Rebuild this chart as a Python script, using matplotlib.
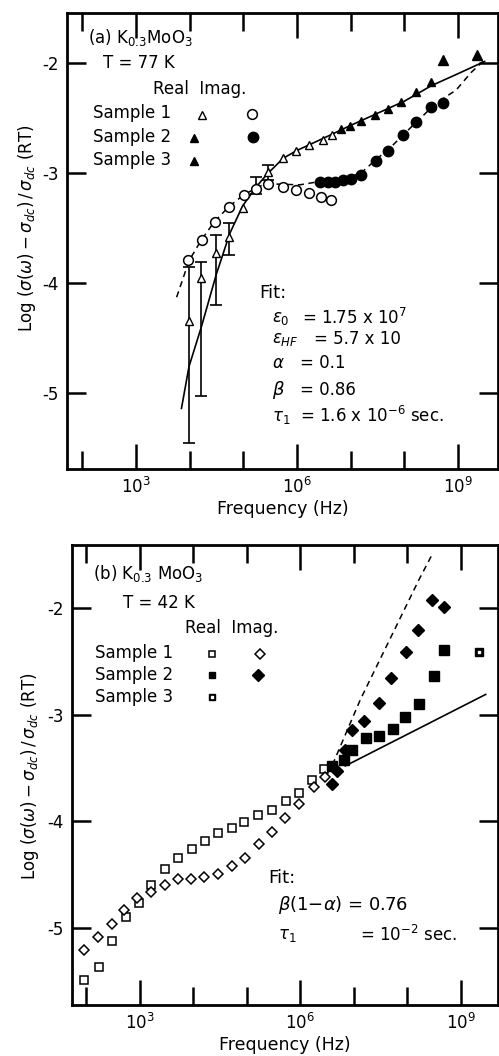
import matplotlib.pyplot as plt
import numpy as np
from matplotlib.ticker import FixedLocator, NullFormatter

W, H = 499, 1056

# ---- panel (a), T = 77 K  (x values are log10 of frequency in Hz)
a_s1_real_logf = [3.99, 4.22, 4.50, 4.73, 4.99, 5.23, 5.46, 5.74, 5.99, 6.23, 6.48, 6.65]
a_s1_real = [-4.35, -3.96, -3.73, -3.58, -3.32, -3.13, -2.99, -2.87, -2.80, -2.75, -2.70, -2.66]
a_err_logf = [3.99, 4.22, 4.50, 4.73, 5.23, 5.46]
a_err_val = [-4.35, -3.96, -3.73, -3.58, -3.13, -2.99]
a_err_lo = [-5.45, -5.03, -4.20, -3.75, -3.19, -3.07]
a_err_hi = [-3.86, -3.81, -3.57, -3.46, -3.04, -2.93]
a_s2_real_logf = [6.82, 6.98, 7.20, 7.46, 7.69, 7.94, 8.22, 8.50]
a_s2_real = [-2.60, -2.58, -2.53, -2.48, -2.42, -2.36, -2.27, -2.18]
a_s3_real_logf = [8.72, 9.34]
a_s3_real = [-1.98, -1.93]
a_s1_imag_logf = [3.97, 4.23, 4.47, 4.73, 5.02, 5.24, 5.46, 5.74, 5.99, 6.22, 6.45, 6.64]
a_s1_imag = [-3.79, -3.61, -3.45, -3.31, -3.20, -3.15, -3.10, -3.13, -3.16, -3.18, -3.22, -3.25]
a_s2_imag_logf = [6.42, 6.57, 6.70, 6.85, 7.01, 7.20, 7.47, 7.69, 7.97, 8.22, 8.50, 8.71]
a_s2_imag = [-3.08, -3.08, -3.08, -3.07, -3.06, -3.02, -2.89, -2.80, -2.66, -2.54, -2.40, -2.37]
a_fit_real_logf = [3.85, 3.99, 4.22, 4.50, 4.75, 4.99, 5.24, 5.43, 5.74, 5.99, 6.48, 7.0, 7.5, 8.0, 8.5, 9.0, 9.49]
a_fit_real = [-5.14, -4.76, -4.40, -3.92, -3.55, -3.30, -3.13, -3.02, -2.87, -2.80, -2.69, -2.57, -2.46, -2.35, -2.21, -2.10, -1.99]
a_fit_imag_logf = [3.76, 3.99, 4.22, 4.47, 4.73, 5.01, 5.40, 6.05, 6.42, 6.85, 7.20, 7.47, 7.72, 7.97, 8.22, 8.50, 8.71, 8.96, 9.24, 9.46]
a_fit_imag = [-4.13, -3.80, -3.61, -3.44, -3.31, -3.20, -3.10, -3.11, -3.08, -3.06, -3.00, -2.88, -2.78, -2.66, -2.54, -2.41, -2.33, -2.25, -2.09, -1.99]

# ---- panel (b), T = 42 K
b_s1_real_logf = [1.96, 2.24, 2.49, 2.74, 2.99, 3.22, 3.47, 3.72, 3.98, 4.23, 4.47, 4.73, 4.95, 5.22, 5.47, 5.73, 5.98, 6.22, 6.44]
b_s1_real = [-5.49, -5.36, -5.12, -4.90, -4.76, -4.60, -4.45, -4.34, -4.26, -4.18, -4.11, -4.06, -4.01, -3.94, -3.89, -3.81, -3.73, -3.61, -3.51]
b_s1_imag_logf = [1.96, 2.23, 2.48, 2.71, 2.96, 3.21, 3.47, 3.72, 3.97, 4.21, 4.46, 4.73, 4.96, 5.23, 5.47, 5.72, 5.98, 6.25, 6.47]
b_s1_imag = [-5.20, -5.08, -4.96, -4.83, -4.72, -4.66, -4.60, -4.54, -4.54, -4.52, -4.49, -4.42, -4.34, -4.21, -4.10, -3.97, -3.84, -3.68, -3.58]
b_s2_real_logf = [6.59, 6.81, 6.97, 7.22, 7.47, 7.73, 7.96, 8.21, 8.50, 8.69]
b_s2_real = [-3.48, -3.42, -3.33, -3.22, -3.20, -3.13, -3.02, -2.90, -2.64, -2.39]
b_s3_real_logf = [9.34]
b_s3_real = [-2.41]
b_s2_imag_logf = [6.59, 6.69, 6.84, 6.97, 7.19, 7.47, 7.70, 7.97, 8.20, 8.46, 8.69]
b_s2_imag = [-3.65, -3.53, -3.33, -3.14, -3.06, -2.89, -2.66, -2.41, -2.21, -1.93, -1.99]
b_fit_dash_logf = [6.60, 7.12, 8.21, 8.47]
b_fit_dash = [-3.47, -2.86, -1.74, -1.49]
b_fit_solid_logf = [6.84, 9.46]
b_fit_solid = [-3.48, -2.81]

major_dec = [3, 6, 9]
minor_dec = [2, 4, 5, 7, 8]


def f(logf):
    return 10.0 ** np.asarray(logf)


def fx(x):
    return x / W


def fy(y):
    return 1 - y / H


def style_axes(ax, xlim, ylim):
    ax.set_xscale('log')
    ax.set_xlim(10 ** xlim[0], 10 ** xlim[1])
    ax.set_ylim(*ylim)
    ax.xaxis.set_major_locator(FixedLocator([10.0 ** d for d in major_dec]))
    ax.xaxis.set_minor_locator(FixedLocator([10.0 ** d for d in minor_dec]))
    ax.xaxis.set_minor_formatter(NullFormatter())
    ax.set_xticklabels(['$10^{%d}$' % d for d in major_dec])
    ax.set_yticks([-2, -3, -4, -5])
    ax.set_yticklabels(['-2', '-3', '-4', '-5'])
    ax.tick_params(which='major', direction='in', length=18, width=1.8,
                   top=True, right=True, labelsize=12, pad=6)
    ax.tick_params(axis='y', which='major', length=14)
    ax.tick_params(which='minor', direction='in', length=13, width=1.8,
                   top=True, right=True)
    for s in ax.spines.values():
        s.set_linewidth(2)
    ax.set_xlabel('Frequency (Hz)', fontsize=12.5, labelpad=2)


def legend_mark(x, y, **kw):
    fig.lines.append(plt.Line2D([fx(x)], [fy(y)], transform=fig.transFigure, **kw))


fig = plt.figure(figsize=(W / 100, H / 100), dpi=100)
ylab = r'Log $(\sigma(\omega)-\sigma_{dc})\,/\,\sigma_{dc}$ (RT)'

# ================= panel (a)
axa = fig.add_axes([67 / W, 1 - 469 / H, 431 / W, 456 / H])
style_axes(axa, (1.72, 9.74), (-5.69, -1.55))

axa.plot(f(a_fit_real_logf), a_fit_real, color='k', lw=1.2)
axa.plot(f(a_fit_imag_logf), a_fit_imag, color='k', lw=1.1, dashes=(4, 3))
yerr = [np.array(a_err_val) - np.array(a_err_lo), np.array(a_err_hi) - np.array(a_err_val)]
axa.errorbar(f(a_err_logf), a_err_val, yerr=yerr, fmt='none', ecolor='k',
             elinewidth=1.2, capsize=4, capthick=1.2)
axa.plot(f(a_s1_real_logf), a_s1_real, '^', ms=5.5, mfc='white', mec='k', mew=1)
axa.plot(f(a_s2_real_logf), a_s2_real, '^', ms=6, color='k')
axa.plot(f(a_s3_real_logf), a_s3_real, '^', ms=6.5, color='k')
axa.plot(f(a_s1_imag_logf), a_s1_imag, 'o', ms=7, mfc='white', mec='k', mew=1.1)
axa.plot(f(a_s2_imag_logf), a_s2_imag, 'o', ms=7.5, color='k')

fig.text(fx(88), fy(37), r'(a) K$_{0.3}$MoO$_3$', fontsize=12, va='center')
fig.text(fx(103), fy(63), 'T = 77 K', fontsize=12, va='center')
fig.text(fx(153), fy(89), 'Real  Imag.', fontsize=12, va='center')
for i, lab in enumerate(['Sample 1', 'Sample 2', 'Sample 3']):
    fig.text(fx(93), fy(113 + 23.5 * i), lab, fontsize=12, va='center')
legend_mark(202, 115, marker='^', ms=5.5, mfc='white', mec='k', mew=1)
legend_mark(252, 114, marker='o', ms=7, mfc='white', mec='k', mew=1.1)
legend_mark(194, 138, marker='^', ms=6, color='k')
legend_mark(253, 137, marker='o', ms=7.5, color='k')
legend_mark(194, 161, marker='^', ms=6, color='k')

fig.text(fx(259), fy(293), 'Fit:', fontsize=13, va='center')
fig.text(fx(272), fy(318), r'$\epsilon_0$', fontsize=12, va='center')
fig.text(fx(302), fy(318), r'= 1.75 x 10$^7$', fontsize=12, va='center')
fig.text(fx(272), fy(339), r'$\epsilon_{HF}$', fontsize=12, va='center')
fig.text(fx(314), fy(339), r'= 5.7 x 10', fontsize=12, va='center')
fig.text(fx(272), fy(363), r'$\alpha$', fontsize=12, va='center')
fig.text(fx(300), fy(363), r'= 0.1', fontsize=12, va='center')
fig.text(fx(272), fy(390), r'$\beta$', fontsize=13, va='center')
fig.text(fx(300), fy(390), r'= 0.86', fontsize=12, va='center')
fig.text(fx(272), fy(417), r'$\tau_1$', fontsize=12, va='center')
fig.text(fx(300), fy(416), r'= 1.6 x 10$^{-6}$ sec.', fontsize=12, va='center')

fig.text(fx(27), fy(228), ylab, fontsize=12, rotation=90, ha='center', va='center')

# ================= panel (b)
axb = fig.add_axes([72 / W, 1 - 1005 / H, 426 / W, 460 / H])
style_axes(axb, (1.74, 9.69), (-5.72, -1.41))

axb.plot(f(b_fit_dash_logf), b_fit_dash, color='k', lw=1.1, dashes=(4, 3))
axb.plot(f(b_fit_solid_logf), b_fit_solid, color='k', lw=1.2)
axb.plot(f(b_s1_real_logf), b_s1_real, 's', ms=6, mfc='white', mec='k', mew=1.1)
axb.plot(f(b_s1_imag_logf), b_s1_imag, 'D', ms=5.5, mfc='white', mec='k', mew=1.1)
axb.plot(f(b_s2_imag_logf), b_s2_imag, 'D', ms=6.5, color='k')
axb.plot(f(b_s2_real_logf), b_s2_real, 's', ms=6.5, color='k')
axb.plot(f(b_s3_real_logf), b_s3_real, 's', ms=6, color='k')
axb.plot(f(b_s3_real_logf), b_s3_real, 's', ms=2, color='white')

fig.text(fx(93), fy(573), r'(b) K$_{0.3}$ MoO$_3$', fontsize=12, va='center')
fig.text(fx(123), fy(603), 'T = 42 K', fontsize=12, va='center')
fig.text(fx(185), fy(628), 'Real  Imag.', fontsize=12, va='center')
for i, lab in enumerate(['Sample 1', 'Sample 2', 'Sample 3']):
    fig.text(fx(95), fy(653 + 22 * i), lab, fontsize=12, va='center')
legend_mark(212, 654, marker='s', ms=4, mfc='white', mec='k', mew=1.1)
legend_mark(260, 654, marker='D', ms=5, mfc='white', mec='k', mew=1.1)
legend_mark(212, 675, marker='s', ms=4, color='k')
legend_mark(258, 675, marker='D', ms=6.5, color='k')
legend_mark(212, 697, marker='s', ms=4, color='k')
legend_mark(212, 697, marker='s', ms=1.5, color='white')

fig.text(fx(268), fy(878), 'Fit:', fontsize=13, va='center')
fig.text(fx(278), fy(905), r'$\beta$(1$-\alpha$) = 0.76', fontsize=13, va='center')
fig.text(fx(278), fy(935), r'$\tau_1$', fontsize=12, va='center')
fig.text(fx(360), fy(935), r'= 10$^{-2}$ sec.', fontsize=12, va='center')

fig.text(fx(30), fy(776), ylab, fontsize=12, rotation=90, ha='center', va='center')

fig.savefig('out.png', dpi=100)
